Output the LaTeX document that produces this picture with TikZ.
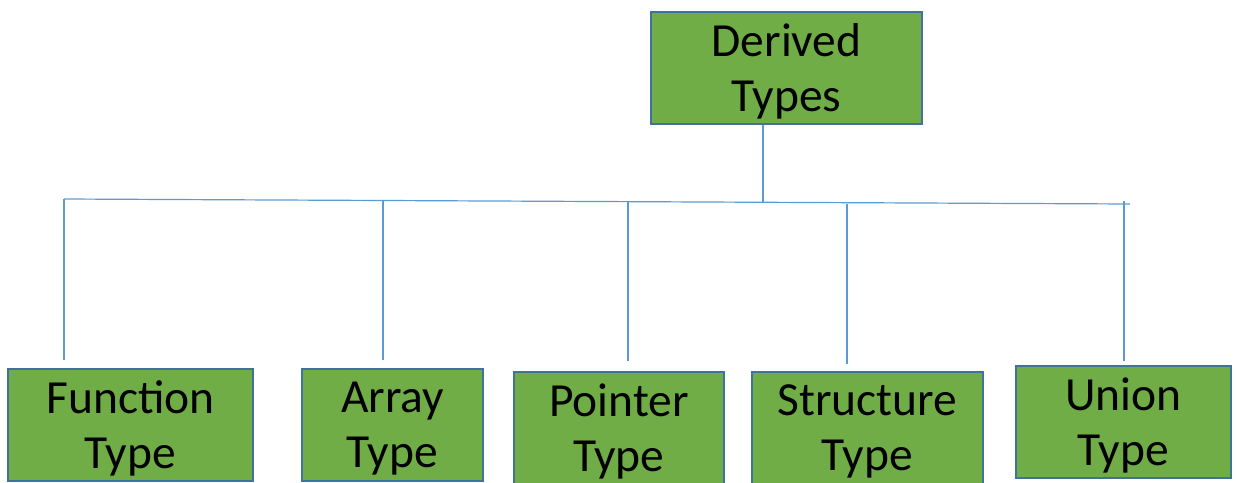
\documentclass[tikz,border=0pt]{standalone}
\usepackage{fontspec}
\setmainfont{Carlito}

\definecolor{boxgreen}{HTML}{70AD47}
\definecolor{boxedge}{HTML}{41719C}
\definecolor{linkblue}{HTML}{5B9BD5}

\tikzset{
  typebox/.style={draw=boxedge, line width=2pt, fill=boxgreen, align=center,
    inner sep=0pt, minimum height=112pt, text depth=1pt,
    font=\fontsize{47.5}{55}\selectfont},
  link/.style={draw=linkblue, line width=1.2pt}
}

\begin{document}
\begin{tikzpicture}[x=1pt,y=-1pt]
\useasboundingbox (0,0) rectangle (1237,482);

\node[typebox, minimum width=271pt] (derived) at (786.5,68) {Derived\\Types};

\node[typebox, minimum width=245pt] (function) at (130.5,425) {Function\\Type};
\node[typebox, minimum width=181pt] (array) at (392.5,425) {Array\\Type};
\node[typebox, minimum width=210pt] (pointer) at (619,428) {Pointer\\Type};
\node[typebox, minimum width=231pt] (structure) at (867.5,428) {Structure\\Type};
\node[typebox, minimum width=215pt] (union) at (1123.5,422) {Union\\Type};

% bus line (runs a little uphill to the left)
\coordinate (busL) at (64,199);
\coordinate (busR) at (1130,204);
\coordinate (busM) at (763,203.3);
\draw[link] (busL) -- (busR);
\draw[link] (derived.south -| busM) -- (busM);

% drops to each type
\coordinate (dF) at (64,360);
\coordinate (dA) at (383,360);
\coordinate (dP) at (628,361);
\coordinate (dS) at (847,364);
\coordinate (dU) at (1124,361);
\draw[link] (busL) -- (dF);
\draw[link] (383,200.5) -- (dA);
\draw[link] (628,201) -- (dP);
\draw[link] (847,203.5) -- (dS);
\draw[link] (1124,201) -- (dU);

\end{tikzpicture}
\end{document}
